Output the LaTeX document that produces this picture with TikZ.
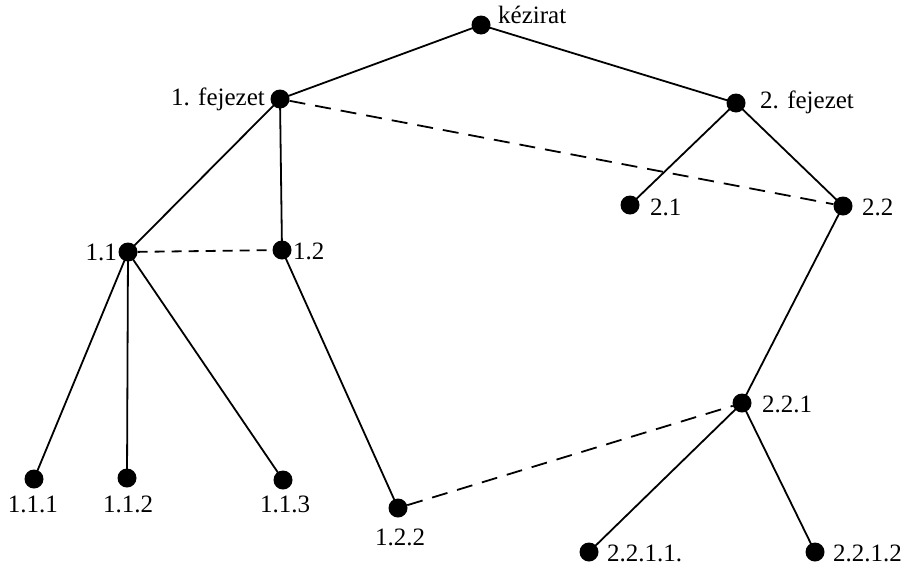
\documentclass[tikz,border=0pt]{standalone}
\usepackage{fontspec}
\setmainfont{Liberation Serif}
\begin{document}
\begin{tikzpicture}[x=1pt,y=-1pt,
  dot/.style={circle,fill=black,minimum size=19pt,inner sep=0pt},
  lbl/.style={inner sep=0pt,font=\fontsize{25}{28}\selectfont},
  edge/.style={line width=1.8pt},
  link/.style={line width=1.8pt,dash pattern=on 16pt off 10pt},
  shortlink/.style={line width=1.8pt,dash pattern=on 10pt off 7pt}]
\useasboundingbox (0,0) rectangle (910,568);
% nodes
\node[dot] (k) at (481,25) {};
\node[dot] (f1) at (280,99) {};
\node[dot] (f2) at (736,103) {};
\node[dot] (n21) at (630,205) {};
\node[dot] (n22) at (843,206) {};
\node[dot] (n11) at (128,252) {};
\node[dot] (n12) at (282,250) {};
\node[dot] (n221) at (742,403) {};
\node[dot] (n111) at (34,479) {};
\node[dot] (n112) at (127,478) {};
\node[dot] (n113) at (283,480) {};
\node[dot] (n122) at (398,508) {};
\node[dot] (n2211) at (589,552) {};
\node[dot] (n2212) at (815,552) {};
% labels
\node[lbl,anchor=base west] (lk) at (498,23) {kézirat};
\node[lbl,anchor=base east] (lf1) at (265,105) {1. fejezet};
\node[lbl,anchor=base west] (lf2) at (760,108) {2. fejezet};
\node[lbl,anchor=base west] (l21) at (650,215) {2.1};
\node[lbl,anchor=base west] (l22) at (862,215) {2.2};
\node[lbl,anchor=base east] (l11) at (117,260) {1.1};
\node[lbl,anchor=base west] (l12) at (293,259) {1.2};
\node[lbl,anchor=base west] (l221) at (762,412) {2.2.1};
\node[lbl,anchor=base] (l111) at (33,512) {1.1.1};
\node[lbl,anchor=base] (l112) at (128,512) {1.1.2};
\node[lbl,anchor=base] (l113) at (285,512) {1.1.3};
\node[lbl,anchor=base] (l122) at (400,545) {1.2.2};
\node[lbl,anchor=base west] (l2211) at (607,561) {2.2.1.1.};
\node[lbl,anchor=base west] (l2212) at (833,561) {2.2.1.2};
% edges
\draw[edge] (k.center) -- (f1.center);
\draw[edge] (k.center) -- (f2.center);
\draw[edge] (f1.center) -- (n11.center);
\draw[edge] (f1.center) -- (n12.center);
\draw[edge] (f2.center) -- (n21.center);
\draw[edge] (f2.center) -- (n22.center);
\draw[edge] (n22.center) -- (n221.center);
\draw[edge] (n11.center) -- (n111.center);
\draw[edge] (n11.center) -- (n112.center);
\draw[edge] (n11.center) -- (n113.center);
\draw[edge] (n12.center) -- (n122.center);
\draw[edge] (n221.center) -- (n2211.center);
\draw[edge] (n221.center) -- (n2212.center);
% dashed links
\draw[link] (f1) -- (n22);
\draw[shortlink] (n11) -- (n12);
\draw[link] (n122) -- (n221);
\end{tikzpicture}
\end{document}
